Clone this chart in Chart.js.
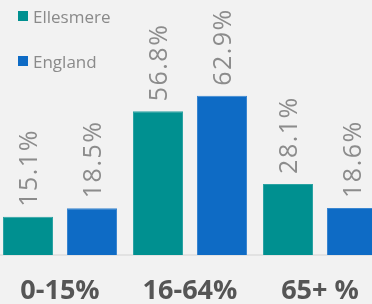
<!DOCTYPE html>
<html>
<head>
<meta charset="utf-8">
<script src="https://cdn.jsdelivr.net/npm/chart.js@4"></script>
<style>
  html, body { margin: 0; padding: 0; background: #f2f2f2; overflow: hidden; width: 372px; height: 304px; }
  #wrap { position: absolute; left: -5px; top: 0; width: 390px; height: 304px; }
  #legend { position: absolute; left: 18px; top: 0; font-family: "Open Sans", sans-serif; font-size: 17px; color: #8a8a8a; }
  .item { position: absolute; left: 0; height: 20px; white-space: nowrap; display: flex; align-items: center; }
  .box { width: 10px; height: 10px; margin-right: 5px; flex: none; }
</style>
</head>
<body>
<div id="wrap"><canvas id="c"></canvas></div>
<div id="legend"></div>
<script>
const categories = ['0-15%', '16-64%', '65+ %'];
const seriesNames = ['Ellesmere', 'England'];
const ellesmereValues = [15.1, 56.8, 28.1];
const englandValues = [18.5, 62.9, 18.6];
const seriesColors = ['#009090', '#0e6bc5'];

const valueLabels = {
  id: 'valueLabels',
  afterDatasetsDraw(chart) {
    const ctx = chart.ctx;
    chart.data.datasets.forEach((ds, di) => {
      const meta = chart.getDatasetMeta(di);
      meta.data.forEach((bar, i) => {
        const v = ds.data[i];
        ctx.save();
        ctx.translate(bar.x + 2, bar.y - 10);
        ctx.rotate(-Math.PI / 2);
        ctx.font = '400 25px "Open Sans"';
        ctx.letterSpacing = '1.5px';
        ctx.fillStyle = '#8c8c8c';
        ctx.textAlign = 'left';
        ctx.textBaseline = 'middle';
        ctx.fillText(v.toFixed(1) + '%', 0, 0);
        ctx.restore();
      });
    });
  }
};

const chart = new Chart(document.getElementById('c'), {
  type: 'bar',
  data: {
    labels: categories,
    datasets: [
      { label: seriesNames[0], data: ellesmereValues, backgroundColor: seriesColors[0], borderColor: '#2aa3a3', borderWidth: 1 },
      { label: seriesNames[1], data: englandValues, backgroundColor: seriesColors[1], borderColor: '#3a86d0', borderWidth: 1 }
    ]
  },
  options: {
    responsive: true,
    maintainAspectRatio: false,
    animation: false,
    layout: { padding: { top: 2, left: 0, right: 0, bottom: -24 } },
    datasets: { bar: { categoryPercentage: 0.9846, barPercentage: 0.78125 } },
    plugins: {
      tooltip: { enabled: false },
      legend: { display: false }
    },
    scales: {
      x: {
        grid: { display: false, drawTicks: false },
        border: { display: true, color: '#e2e2e2', width: 2 },
        ticks: {
          padding: 23,
          color: '#555555',
          font: { family: '"Open Sans"', size: 27, weight: 'bold', lineHeight: 1 }
        }
      },
      y: {
        display: false,
        min: 0,
        max: 100
      }
    }
  },
  plugins: [valueLabels]
});

// HTML legend built from the chart's datasets
const legendEl = document.getElementById('legend');
chart.data.datasets.forEach((ds, i) => {
  const item = document.createElement('div');
  item.className = 'item';
  item.style.top = (6 + i * 45) + 'px';
  const box = document.createElement('span');
  box.className = 'box';
  box.style.background = ds.backgroundColor;
  const txt = document.createElement('span');
  txt.textContent = ds.label;
  item.appendChild(box);
  item.appendChild(txt);
  legendEl.appendChild(item);
});
</script>
</body>
</html>
